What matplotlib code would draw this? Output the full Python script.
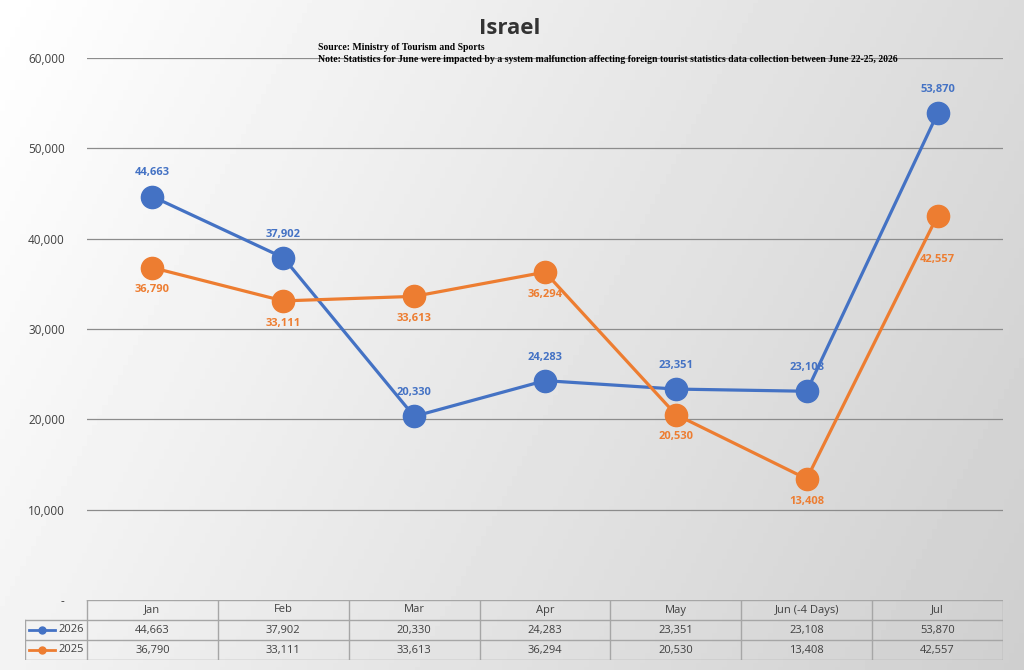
import numpy as np
import matplotlib.pyplot as plt

months = ['Jan', 'Feb', 'Mar', 'Apr', 'May', 'Jun (-4 Days)', 'Jul']
v2026 = [44663, 37902, 20330, 24283, 23351, 23108, 53870]
v2025 = [36790, 33111, 33613, 36294, 20530, 13408, 42557]
yticks = [0, 10000, 20000, 30000, 40000, 50000, 60000]

blue = '#4472C4'
orange = '#ED7D31'
W, H = 1024, 670

plt.rcParams['font.family'] = ['Open Sans', 'DejaVu Sans']
fig = plt.figure(figsize=(W / 100, H / 100), dpi=100)

# gradient background
bg = fig.add_axes([0, 0, 1, 1])
gx, gy = np.meshgrid(np.linspace(0, 1, 200), np.linspace(0, 1, 200))
grad = 1.0 - 0.19 * (0.75 * gx + 0.25 * gy)
bg.imshow(grad, cmap='gray', vmin=0, vmax=1, aspect='auto', extent=[0, 1, 0, 1])
bg.set_axis_off()

def px_axes(x0, y0, x1, y1):
    return fig.add_axes([x0 / W, 1 - y1 / H, (x1 - x0) / W, (y1 - y0) / H])

ax = px_axes(87, 58, 1003, 600)
ax.patch.set_alpha(0)
x = np.arange(len(months))
ax.set_xlim(-0.5, len(months) - 0.5)
ax.set_ylim(0, 60000)
for t in yticks[1:]:
    ax.axhline(t, color='#8c8c8c', lw=0.9, zorder=0)
ax.set_yticks(yticks)
ax.set_yticklabels(['-' if t == 0 else f'{t:,}' for t in yticks], fontsize=8.5, color='#404040')
ax.tick_params(length=0, pad=16)
ax.set_xticks([])
for s in ax.spines.values():
    s.set_visible(False)

ax.plot(x, v2026, color=blue, lw=2.3, marker='o', ms=16, zorder=3)
ax.plot(x, v2025, color=orange, lw=2.3, marker='o', ms=16, zorder=3)
for i in range(len(months)):
    ax.annotate(f'{v2026[i]:,}', (x[i], v2026[i]), xytext=(0, 13), textcoords='offset points',
                ha='center', va='bottom', color=blue, fontsize=8, fontweight='bold')
    dy = -28 if i == len(months) - 1 else -12
    ax.annotate(f'{v2025[i]:,}', (x[i], v2025[i]), xytext=(0, dy), textcoords='offset points',
                ha='center', va='top', color=orange, fontsize=8, fontweight='bold')

fig.text(510 / W, 1 - 28 / H, 'Israel', ha='center', va='center', fontsize=16, fontweight='bold', color='#333333')
fig.text(318 / W, 1 - 48 / H, 'Source: Ministry of Tourism and Sports', ha='left', va='center',
         fontsize=7, fontweight='bold', family='Liberation Serif')
fig.text(318 / W, 1 - 60 / H, 'Note: Statistics for June were impacted by a system malfunction affecting '
         'foreign tourist statistics data collection between June 22-25, 2026', ha='left', va='center',
         fontsize=7, fontweight='bold', family='Liberation Serif')

# data table
tb = px_axes(25, 600, 1003, 660)
tb.set_xlim(25, 1003)
tb.set_ylim(660, 600)
tb.set_axis_off()
tb.patch.set_alpha(0)
lc = '#a6a6a6'
colw = (1003 - 87) / 7
tb.plot([87, 1003], [600, 600], color=lc, lw=1)
tb.plot([25, 1003], [620, 620], color=lc, lw=1)
tb.plot([25, 1003], [640, 640], color=lc, lw=1)
tb.plot([25, 1003], [660, 660], color=lc, lw=1)
tb.plot([25, 25], [620, 660], color=lc, lw=1)
for k in range(8):
    tb.plot([87 + k * colw] * 2, [600, 660], color=lc, lw=1)
for k, m in enumerate(months):
    cx = 87 + (k + 0.5) * colw
    tb.text(cx, 610, m, ha='center', va='center', fontsize=8, color='#404040')
    tb.text(cx, 630, f'{v2026[k]:,}', ha='center', va='center', fontsize=8, color='#404040')
    tb.text(cx, 650, f'{v2025[k]:,}', ha='center', va='center', fontsize=8, color='#404040')
for yy, col, lab in [(630, blue, '2026'), (650, orange, '2025')]:
    tb.plot([29, 55], [yy, yy], color=col, lw=2)
    tb.plot([42], [yy], marker='o', color=col, ms=5)
    tb.text(58, yy, lab, ha='left', va='center', fontsize=8, color='#404040')

fig.savefig('out.png', dpi=100)
